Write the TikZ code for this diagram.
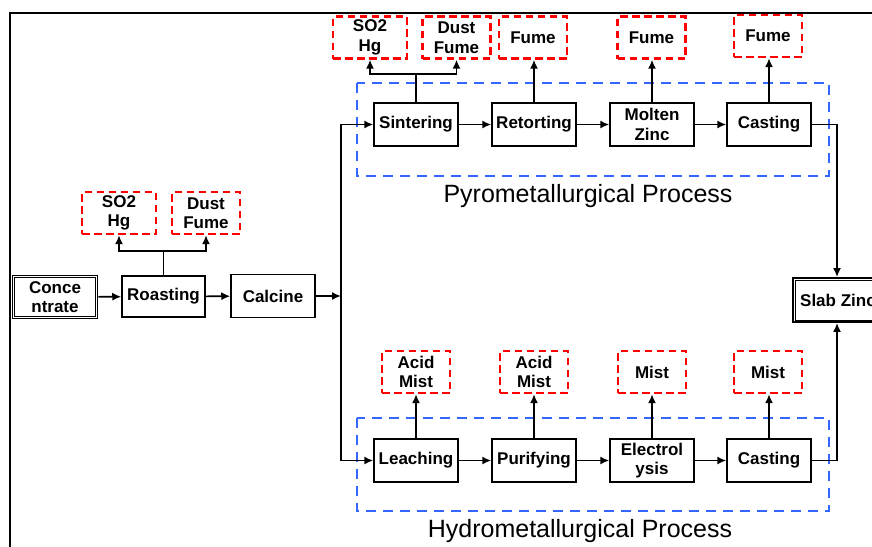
\documentclass[tikz,border=0pt]{standalone}
\usepackage{fontspec}
\setmainfont{Liberation Sans}
\usetikzlibrary{arrows.meta}
\definecolor{fumered}{RGB}{255,0,0}
\definecolor{groupblue}{RGB}{51,102,255}
\tikzset{
    block/.style = {draw, rectangle, line width=1.5pt, inner sep=2pt,
        minimum height=43pt,
        minimum width=84pt, align=center,
        font=\bfseries\fontsize{17}{19.5}\selectfont},
    feed/.style = {block, line width=1.9pt,
        minimum height=43pt, minimum width=85pt},
    gas/.style = {draw=fumered, rectangle, line width=2.4pt,
        dash pattern=on 7.5pt off 4.5pt, inner sep=2pt,
        minimum height=42pt, minimum width=68pt, align=center,
        font=\bfseries\fontsize{17}{19.5}\selectfont},
    group/.style = {draw=groupblue, line width=2.7pt, dash pattern=on 10pt off 7pt},
    arrow/.style = {draw, line width=1.6pt, -{Latex[length=9pt,width=8pt]}},
    link/.style = {draw, line width=1.6pt},
    inner/.style = {draw, line width=0.9pt},
    title/.style = {font=\fontsize{25}{30}\selectfont}
}
\begin{document}
\begin{tikzpicture}[x=1pt,y=-1pt]
    \useasboundingbox (0,0) rectangle (872,546);
    \draw[line width=2.4pt] (10,560) -- (10,13) -- (890,13);

    \draw[group] (357,83) rectangle (829,176);
    \draw[group] (357,418) rectangle (829,511);
    \node[title] (pyro) at (588,196) {Pyrometallurgical Process};
    \node[title] (hydro) at (580,531) {Hydrometallurgical Process};

    \node[feed] (conc) at (55,297) {Conce\\ntrate};
    \draw[inner] ([shift={(3pt,-3pt)}]conc.north west) rectangle ([shift={(-3pt,3pt)}]conc.south east);
    \node[block, minimum height=41pt, minimum width=83pt] (roast) at (163.5,296.5) {Roasting};
    \node[block] (calc) at (273,296) {Calcine};
    \coordinate (split) at (341,296);
    \node[gas, minimum width=74pt] (rso2) at (119,213) {SO2\\Hg};
    \node[gas] (rdust) at (206,213) {Dust\\Fume};

    \node[block] (sinter) at (416,124.5) {Sintering};
    \node[block] (retort) at (534,124.5) {Retorting};
    \node[block] (molten) at (652,124.5) {Molten\\Zinc};
    \node[block] (pcast) at (769,124.5) {Casting};
    \node[gas, minimum width=74pt] (so2) at (370,37.5) {SO2\\Hg};
    \node[gas] (dust) at (456.5,37.5) {Dust\\Fume};
    \node[gas] (fume1) at (533,37.5) {Fume};
    \node[gas] (fume2) at (651.5,37.5) {Fume};
    \node[gas] (fume3) at (768,36) {Fume};

    \node[block] (leach) at (416,460.5) {Leaching};
    \node[block] (purify) at (534,460.5) {Purifying};
    \node[block] (electro) at (652,460.5) {Electrol\\ysis};
    \node[block] (hcast) at (769,460.5) {Casting};
    \node[gas] (acid1) at (416,372) {Acid\\Mist};
    \node[gas] (acid2) at (534,372) {Acid\\Mist};
    \node[gas] (mist1) at (652,372) {Mist};
    \node[gas] (mist2) at (768,372) {Mist};

    \node[feed, minimum width=90pt, minimum height=44pt, anchor=west] (slab) at (792,300) {Slab Zinc};
    \draw[inner] ([shift={(3pt,-3pt)}]slab.north west) rectangle ([shift={(-3pt,3pt)}]slab.south east);

    \draw[arrow] (conc) -- (roast);
    \draw[arrow] (roast) -- (calc);
    \draw[arrow] (calc) -- (split);
    \draw[link] (roast.north) -- ++(0,-24) coordinate (rj);
    \draw[arrow] (rj) -| (rso2.south);
    \draw[arrow] (rj) -| (rdust.south);

    \draw[arrow] (split) |- (sinter);
    \draw[arrow] (split) |- (leach);

    \draw[arrow] (sinter) -- (retort);
    \draw[arrow] (retort) -- (molten);
    \draw[arrow] (molten) -- (pcast);
    \draw[link] (sinter.north) -- ++(0,-28) coordinate (sj);
    \draw[arrow] (sj) -| (so2.south);
    \draw[arrow] (sj) -| (dust.south);
    \draw[arrow] (retort.north) -- (retort.north |- fume1.south);
    \draw[arrow] (molten.north) -- (molten.north |- fume2.south);
    \draw[arrow] (pcast.north) -- (pcast.north |- fume3.south);

    \draw[arrow] (leach) -- (purify);
    \draw[arrow] (purify) -- (electro);
    \draw[arrow] (electro) -- (hcast);
    \draw[arrow] (leach) -- (acid1);
    \draw[arrow] (purify) -- (acid2);
    \draw[arrow] (electro) -- (mist1);
    \draw[arrow] (hcast.north) -- (hcast.north |- mist2.south);

    \draw[arrow] (pcast) -| (slab.north -| 837,0);
    \draw[arrow] (hcast) -| (slab.south -| 837,0);
\end{tikzpicture}
\end{document}
